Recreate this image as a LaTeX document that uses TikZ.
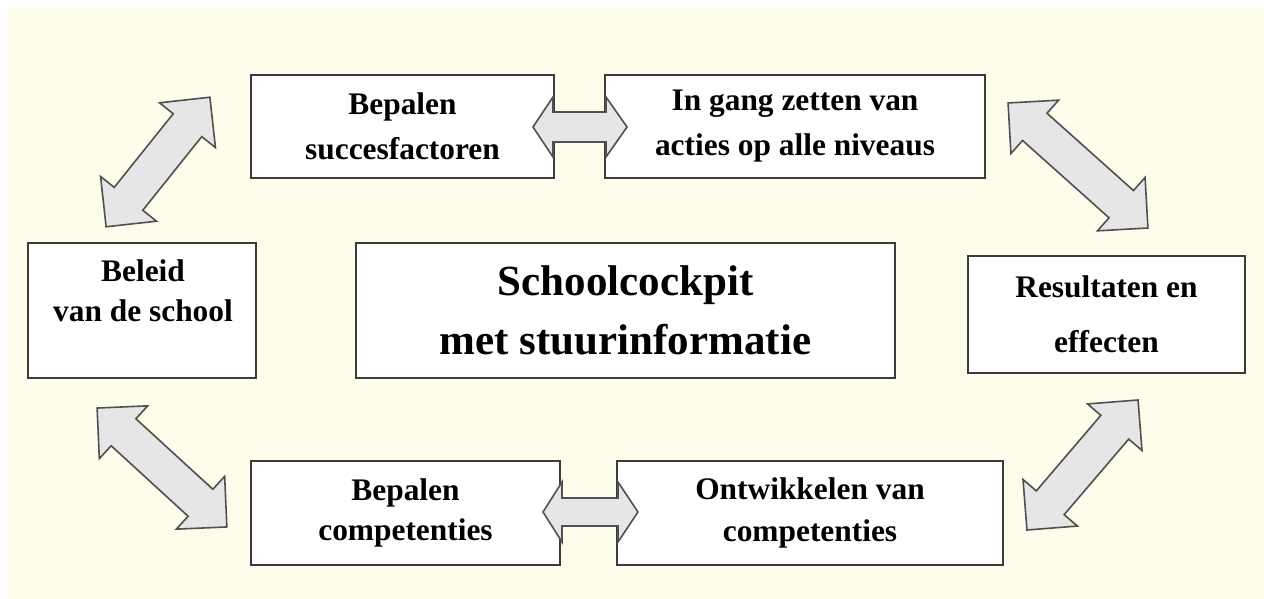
\documentclass[tikz,border=0pt]{standalone}
\usepackage{fontspec}
\setmainfont{Liberation Serif}
\usetikzlibrary{shapes.arrows}
\definecolor{cream}{RGB}{254,253,235}
\definecolor{boxline}{RGB}{60,60,60}
\definecolor{arrowfill}{RGB}{230,230,230}
\definecolor{arrowline}{RGB}{80,80,80}
\begin{document}
\begin{tikzpicture}[x=0.5pt,y=-0.5pt,
  box/.style={draw=boxline, line width=1pt, fill=white, inner sep=0pt},
  txt/.style={align=center, inner sep=0pt, font=\bfseries\fontsize{15.7}{#1}\selectfont},
  bigtxt/.style={align=center, inner sep=0pt, font=\bfseries\fontsize{21.5}{29.5}\selectfont},
  arrowlook/.style={draw=arrowline, fill=arrowfill, line width=0.8pt, line join=miter},
  dbl/.style={double arrow, arrowlook, inner xsep=0pt, double arrow head indent=0pt},
  diag/.style={dbl, double arrow tip angle=90, inner ysep=8.75pt, double arrow head extend=8.75pt}]
\useasboundingbox (0,0) rectangle (1264,599);
\fill[white] (0,0) rectangle (1264,599);
\fill[cream] (7,9) rectangle (1264,599);
% diagonal block arrows
\node[diag, rotate=51.3, minimum height=83pt] (aTL) at (158,162) {};
\node[diag, rotate=-41.8, minimum height=93.8pt] (aTR) at (1078,165.5) {};
\node[diag, rotate=-42.5, minimum height=88pt] (aBL) at (162,467.5) {};
\node[diag, rotate=49.5, minimum height=85.5pt] (aBR) at (1082.5,465) {};
% boxes
\node[box, minimum width=114pt, minimum height=67.5pt] (beleid) at (142,310.5) {};
\node[txt=20] (tbeleid) at (143,291) {Beleid\\van de school};
\node[box, minimum width=151.5pt, minimum height=51.5pt, txt=22.5] (bsucc) at (402.5,126.5) {Bepalen\\succesfactoren};
\node[box, minimum width=190pt, minimum height=51.5pt, txt=22.5] (ingang) at (795,126.5) {In gang zetten van\\acties op alle niveaus};
\node[box, minimum width=269.5pt, minimum height=67.5pt, bigtxt] (cockpit) at (625.5,310.5) {Schoolcockpit\\met stuurinformatie};
\node[box, minimum width=138.5pt, minimum height=58.5pt, txt=27.5] (result) at (1106.5,314.5) {Resultaten en\\effecten};
\node[box, minimum width=154.5pt, minimum height=52pt, txt=20] (bcomp) at (405.5,513) {Bepalen\\competenties};
\node[box, minimum width=193pt, minimum height=52pt, txt=21] (ontw) at (810,513) {Ontwikkelen van\\competenties};
% horizontal block arrows, drawn over the boxes
\draw[arrowlook] (533,127) -- (553,97) -- (553,112) -- (606,112) -- (606,97) -- (627,127)
  -- (606,157) -- (606,142) -- (553,142) -- (553,157) -- cycle;
\draw[arrowlook] (543,512) -- (562,482) -- (562,498) -- (618,498) -- (618,482) -- (638,512)
  -- (618,542) -- (618,526) -- (562,526) -- (562,542) -- cycle;
\end{tikzpicture}
\end{document}
